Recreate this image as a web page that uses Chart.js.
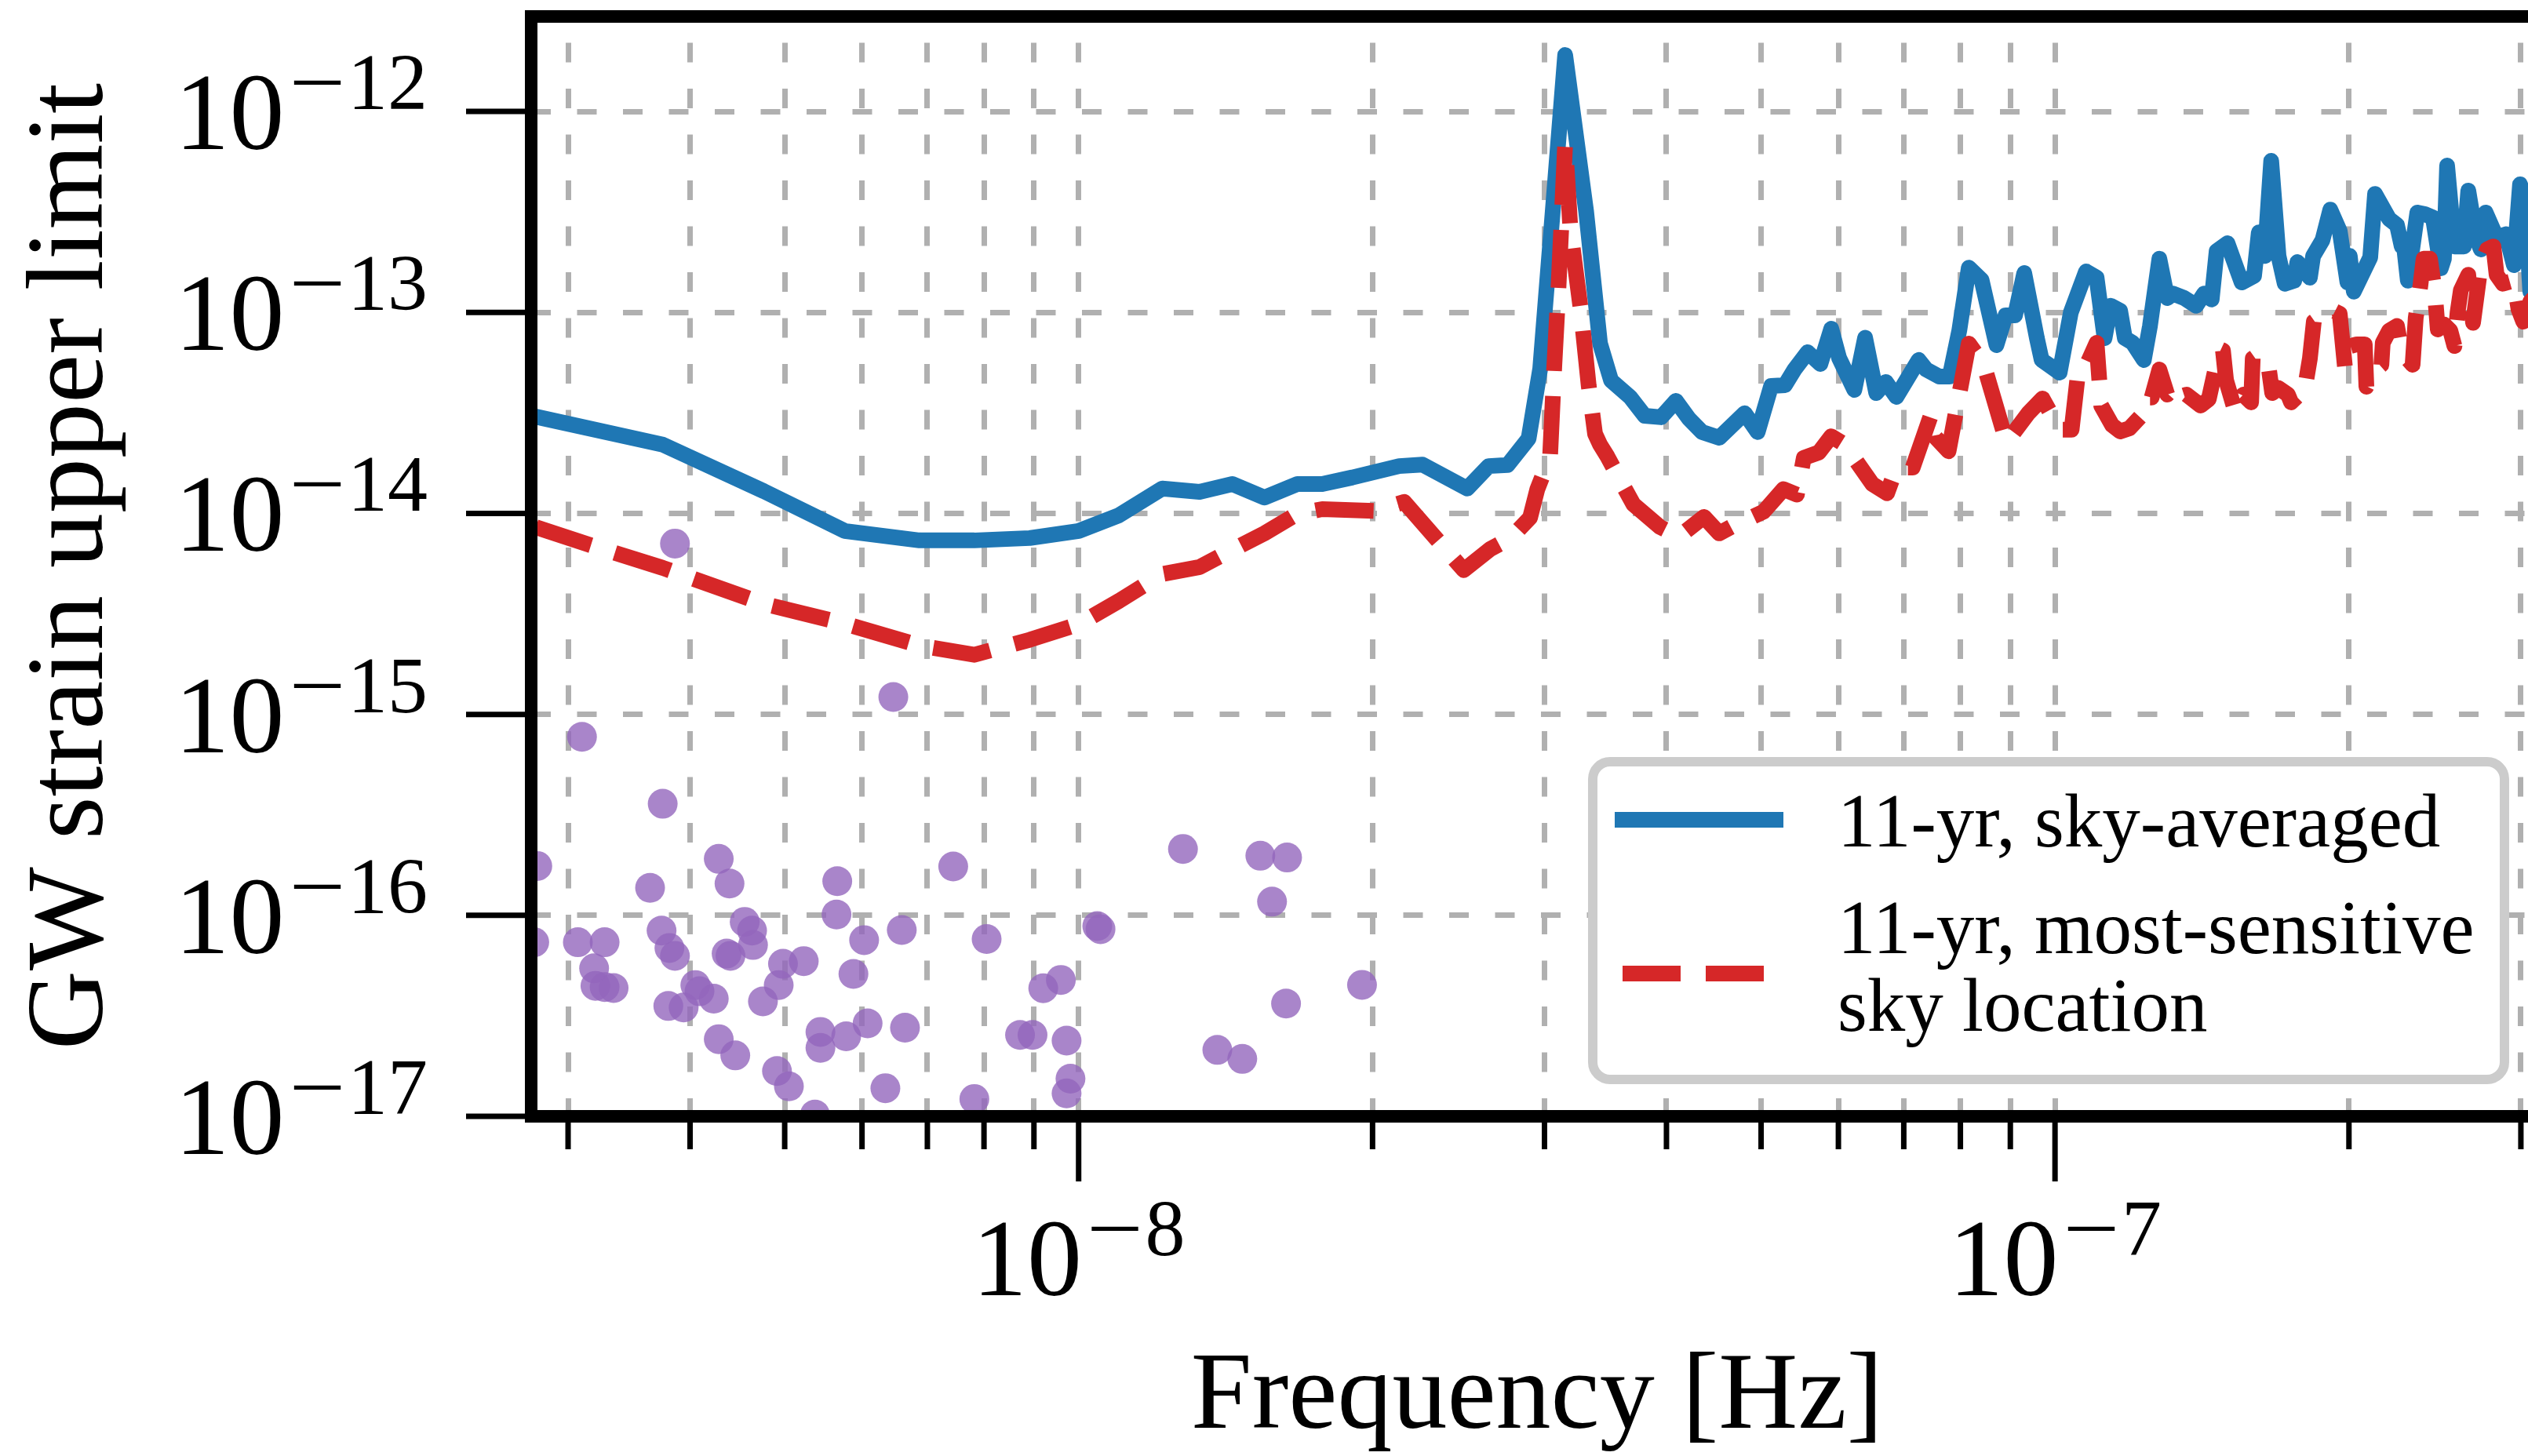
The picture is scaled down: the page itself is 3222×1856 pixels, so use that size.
<!DOCTYPE html>
<html>
<head>
<meta charset="utf-8">
<script src="https://cdn.jsdelivr.net/npm/chart.js@4.4.1/dist/chart.umd.min.js"></script>
<style>
html,body{margin:0;padding:0;background:#fff;overflow:hidden;width:3222px;height:1856px;}
#wrap{position:absolute;left:0;top:0;width:3260px;height:1856px;}
canvas{display:block;}
</style>
</head>
<body>
<div id="wrap"><canvas id="c" width="3260" height="1856"></canvas></div>
<script>
// ---------------- data ----------------
const xLimits = [2.75e-9, 3.16e-7];
const yLimits = [1e-17, 2.97e-12];
const xTickValues = [3e-9,4e-9,5e-9,6e-9,7e-9,8e-9,9e-9,1e-8,2e-8,3e-8,4e-8,5e-8,6e-8,7e-8,8e-8,9e-8,1e-7,2e-7,3e-7];
const xMajorValues = [1e-8, 1e-7];
const yTickValues = [1e-17,1e-16,1e-15,1e-14,1e-13,1e-12];

const skyLabel = '11-yr, sky-averaged';
const bestLabel = '11-yr, most-sensitive\nsky location';

const skyFreq = [
2.78e-9,3.75e-9,4.76e-9,5.76e-9,6.87e-9,7.82e-9,8.91e-9,1.00e-8,1.10e-8,1.218e-8,
1.33e-8,1.437e-8,1.55e-8,1.675e-8,1.776e-8,1.907e-8,2.13e-8,2.25e-8,2.50e-8,2.63e-8,
2.75e-8,2.89e-8,2.97e-8,3.15e-8,3.31e-8,3.42e-8,3.51e-8,3.67e-8,3.80e-8,3.95e-8,
4.09e-8,4.22e-8,4.35e-8,4.53e-8,4.81e-8,4.96e-8,5.12e-8,5.29e-8,5.41e-8,5.58e-8,
5.75e-8,5.90e-8,6.01e-8,6.23e-8,6.39e-8,6.56e-8,6.71e-8,6.88e-8,7.25e-8,7.38e-8,
7.61e-8,7.80e-8,7.98e-8,8.16e-8,8.41e-8,8.71e-8,8.90e-8,9.10e-8,9.30e-8,9.58e-8,
9.69e-8,9.85e-8,1.011e-7,1.038e-7,1.076e-7,1.103e-7,1.124e-7,1.140e-7,1.166e-7,1.179e-7,
1.201e-7,1.233e-7,1.251e-7,1.279e-7,1.303e-7,1.321e-7,1.356e-7,1.395e-7,1.421e-7,1.447e-7,
1.464e-7,1.502e-7,1.553e-7,1.599e-7,1.617e-7,1.640e-7,1.665e-7,1.694e-7,1.719e-7,1.758e-7,
1.771e-7,1.824e-7,1.838e-7,1.879e-7,1.914e-7,1.957e-7,1.993e-7,2.004e-7,2.023e-7,2.103e-7,
2.127e-7,2.199e-7,2.240e-7,2.265e-7,2.273e-7,2.298e-7,2.350e-7,2.393e-7,2.438e-7,2.484e-7,
2.502e-7,2.521e-7,2.565e-7,2.623e-7,2.650e-7,2.699e-7,2.730e-7,2.761e-7,2.833e-7,2.896e-7,
2.951e-7,2.994e-7,3.028e-7,3.067e-7,3.148e-7
];
const skyStrain = [
3.03e-14,2.20e-14,1.29e-14,8.18e-15,7.34e-15,7.34e-15,7.54e-15,8.18e-15,9.79e-15,1.33e-14,
1.28e-14,1.40e-14,1.20e-14,1.40e-14,1.40e-14,1.51e-14,1.72e-14,1.75e-14,1.33e-14,1.72e-14,
1.74e-14,2.36e-14,5.25e-14,1.91e-12,3.17e-13,7.00e-14,4.59e-14,3.80e-14,3.06e-14,3.01e-14,
3.63e-14,2.95e-14,2.54e-14,2.38e-14,3.15e-14,2.54e-14,4.31e-14,4.35e-14,5.20e-14,6.34e-14,
5.54e-14,8.30e-14,5.93e-14,4.12e-14,7.48e-14,3.97e-14,4.51e-14,3.80e-14,5.80e-14,5.20e-14,
4.80e-14,4.80e-14,8.15e-14,1.67e-13,1.45e-13,6.88e-14,9.67e-14,9.67e-14,1.57e-13,7.48e-14,
5.80e-14,5.49e-14,5.02e-14,1.00e-13,1.60e-13,1.49e-13,7.45e-14,1.08e-13,1.02e-13,7.45e-14,
7.06e-14,5.80e-14,8.57e-14,1.85e-13,1.18e-13,1.24e-13,1.18e-13,1.08e-13,1.24e-13,1.16e-13,
2.02e-13,2.21e-13,1.41e-13,1.52e-13,2.50e-13,1.91e-13,5.68e-13,1.91e-13,1.39e-13,1.44e-13,
1.78e-13,1.49e-13,1.91e-13,2.29e-13,3.25e-13,2.54e-13,1.41e-13,1.91e-13,1.27e-13,1.88e-13,
3.89e-13,2.92e-13,2.72e-13,2.13e-13,2.32e-13,1.44e-13,3.14e-13,3.08e-13,2.97e-13,1.66e-13,
1.85e-13,5.38e-13,2.13e-13,2.13e-13,4.04e-13,2.36e-13,2.06e-13,3.14e-13,2.36e-13,2.45e-13,
1.72e-13,4.34e-13,3.75e-13,1.27e-13,1.85e-13
];

const bestFreq = [
2.78e-9,3.16e-9,3.75e-9,4.76e-9,5.76e-9,6.87e-9,7.82e-9,8.91e-9,1.00e-8,1.10e-8,
1.218e-8,1.33e-8,1.437e-8,1.55e-8,1.675e-8,1.776e-8,2.01e-8,2.155e-8,2.48e-8,2.64e-8,
2.77e-8,2.90e-8,2.95e-8,3.04e-8,3.07e-8,3.10e-8,3.15e-8,3.19e-8,3.27e-8,3.33e-8,
3.38e-8,3.42e-8,3.48e-8,3.61e-8,3.70e-8,3.94e-8,4.12e-8,4.37e-8,4.53e-8,4.69e-8,
5.03e-8,5.27e-8,5.44e-8,5.53e-8,5.73e-8,5.90e-8,6.09e-8,6.50e-8,6.73e-8,6.88e-8,
7.15e-8,7.47e-8,7.55e-8,7.78e-8,8.16e-8,8.45e-8,8.92e-8,9.39e-8,9.71e-8,9.93e-8,
1.011e-7,1.040e-7,1.057e-7,1.077e-7,1.103e-7,1.115e-7,1.144e-7,1.166e-7,1.192e-7,1.223e-7,
1.237e-7,1.256e-7,1.279e-7,1.303e-7,1.321e-7,1.335e-7,1.364e-7,1.410e-7,1.437e-7,1.475e-7,
1.486e-7,1.497e-7,1.530e-7,1.559e-7,1.588e-7,1.594e-7,1.611e-7,1.652e-7,1.669e-7,1.694e-7,
1.732e-7,1.745e-7,1.771e-7,1.797e-7,1.824e-7,1.841e-7,1.875e-7,1.914e-7,1.957e-7,1.982e-7,
2.008e-7,2.038e-7,2.076e-7,2.084e-7,2.123e-7,2.159e-7,2.166e-7,2.199e-7,2.240e-7,2.265e-7,
2.324e-7,2.341e-7,2.367e-7,2.385e-7,2.421e-7,2.448e-7,2.466e-7,2.502e-7,2.540e-7,2.565e-7,
2.584e-7,2.604e-7,2.650e-7,2.680e-7,2.730e-7,2.771e-7,2.812e-7,2.833e-7,2.875e-7,2.951e-7,
2.983e-7,3.017e-7,3.067e-7,3.148e-7
];
const bestStrain = [
8.55e-15,6.96e-15,5.36e-15,3.55e-15,2.83e-15,2.20e-15,1.98e-15,2.35e-15,2.81e-15,3.67e-15,
4.99e-15,5.41e-15,6.59e-15,7.96e-15,9.96e-15,1.05e-14,1.03e-14,1.14e-14,5.22e-15,6.65e-15,
7.54e-15,9.53e-15,1.32e-14,1.92e-14,5.35e-14,1.30e-13,6.92e-13,2.55e-13,1.01e-13,4.31e-14,
2.49e-14,2.20e-14,1.92e-14,1.38e-14,1.11e-14,8.55e-15,7.68e-15,9.61e-15,7.96e-15,8.71e-15,
1.02e-14,1.32e-14,1.24e-14,1.89e-14,2.01e-14,2.42e-14,2.20e-14,1.40e-14,1.26e-14,1.69e-14,
1.69e-14,3.12e-14,2.38e-14,2.04e-14,7.00e-14,5.54e-14,2.26e-14,3.15e-14,3.73e-14,3.06e-14,
2.61e-14,2.61e-14,5.25e-14,5.44e-14,7.06e-14,3.44e-14,2.75e-14,2.56e-14,2.65e-14,3.03e-14,
3.77e-14,3.77e-14,5.20e-14,3.90e-14,4.20e-14,3.77e-14,3.90e-14,3.44e-14,3.70e-14,6.57e-14,
6.46e-14,4.59e-14,3.20e-14,3.90e-14,3.57e-14,5.90e-14,6.12e-14,5.69e-14,3.97e-14,4.20e-14,
3.90e-14,3.57e-14,3.83e-14,3.83e-14,5.90e-14,9.00e-14,9.59e-14,1.04e-13,9.85e-14,5.25e-14,
6.81e-14,6.94e-14,6.94e-14,4.27e-14,5.11e-14,5.49e-14,7.06e-14,8.12e-14,8.57e-14,6.34e-14,
5.49e-14,9.37e-14,1.36e-13,1.85e-13,1.85e-13,1.29e-13,8.23e-14,8.72e-14,8.12e-14,6.81e-14,
1.00e-13,1.29e-13,1.54e-13,8.88e-14,1.75e-13,2.06e-13,2.13e-13,1.54e-13,1.39e-13,1.44e-13,
1.04e-13,9.0e-14,1.13e-13,1.29e-13
];

const pulsarFreq = [
3.86e-9,6.46e-9,3.10e-9,3.75e-9,2.79e-9,4.28e-9,4.39e-9,3.64e-9,5.66e-9,7.44e-9,
5.65e-9,2.77e-9,3.07e-9,3.27e-9,3.74e-9,3.81e-9,3.86e-9,4.55e-9,4.63e-9,4.64e-9,
4.36e-9,4.40e-9,6.03e-9,6.59e-9,8.05e-9,3.19e-9,3.20e-9,3.27e-9,3.34e-9,4.98e-9,
5.23e-9,5.88e-9,4.05e-9,4.09e-9,4.23e-9,3.80e-9,3.94e-9,4.93e-9,4.75e-9,4.28e-9,
4.45e-9,5.44e-9,5.44e-9,5.78e-9,6.08e-9,6.64e-9,4.91e-9,5.05e-9,6.34e-9,7.82e-9,
5.37e-9,1.279e-8,1.535e-8,1.635e-8,1.578e-8,1.045e-8,1.053e-8,9.59e-9,9.20e-9,1.951e-8,
1.631e-8,8.71e-9,8.97e-9,9.72e-9,1.387e-8,1.471e-8,9.81e-9,9.72e-9
];
const pulsarStrain = [
7.08e-15,1.22e-15,7.73e-16,3.59e-16,1.76e-16,1.91e-16,1.44e-16,1.37e-16,1.48e-16,1.75e-16,
1.01e-16,7.35e-17,7.35e-17,7.35e-17,8.40e-17,6.88e-17,6.29e-17,9.28e-17,8.40e-17,7.12e-17,
6.45e-17,6.29e-17,7.53e-17,8.45e-17,7.62e-17,5.45e-17,4.46e-17,4.40e-17,4.35e-17,5.74e-17,
5.92e-17,5.11e-17,4.50e-17,4.19e-17,3.85e-17,3.54e-17,3.48e-17,4.50e-17,3.73e-17,2.42e-17,
2.01e-17,2.63e-17,2.19e-17,2.50e-17,2.90e-17,2.76e-17,1.68e-17,1.41e-17,1.38e-17,1.22e-17,
1.02e-17,2.14e-16,1.98e-16,1.94e-16,1.17e-16,8.84e-17,8.54e-17,4.77e-17,4.34e-17,4.51e-17,
3.64e-17,2.54e-17,2.54e-17,2.38e-17,2.14e-17,1.93e-17,1.54e-17,1.30e-17
];

// ---------------- styling ----------------
const FONT = '"Liberation Serif", "Times New Roman", serif';
const BLUE = '#1f77b4', RED = '#d62728', PURPLE = 'rgba(148,103,189,0.8)';
const LINE_W = 20, RED_DASH = [74, 32];
const GRID_DASH = [25, 33.5];

function pts(xs, ys) { return xs.map((v, i) => ({ x: v, y: ys[i] })); }

function roundRectPath(ctx, x, y, w, h, r) {
  ctx.beginPath();
  ctx.moveTo(x + r, y);
  ctx.lineTo(x + w - r, y); ctx.arcTo(x + w, y, x + w, y + r, r);
  ctx.lineTo(x + w, y + h - r); ctx.arcTo(x + w, y + h, x + w - r, y + h, r);
  ctx.lineTo(x + r, y + h); ctx.arcTo(x, y + h, x, y + h - r, r);
  ctx.lineTo(x, y + r); ctx.arcTo(x, y, x + r, y, r);
  ctx.closePath();
}

const decor = {
  id: 'decor',
  afterDatasetsDraw(chart) {
    const { ctx, chartArea: a, scales: { x, y } } = chart;
    ctx.save();
    ctx.setLineDash([]);
    ctx.strokeStyle = '#000';
    ctx.lineCap = 'butt';
    ctx.lineWidth = 7;
    yTickValues.forEach(v => {
      const p = y.getPixelForValue(v);
      ctx.beginPath(); ctx.moveTo(a.left, p); ctx.lineTo(a.left - 83, p); ctx.stroke();
    });
    xTickValues.forEach(v => {
      const p = x.getPixelForValue(v);
      const major = xMajorValues.includes(v);
      ctx.beginPath(); ctx.moveTo(p, a.bottom); ctx.lineTo(p, a.bottom + (major ? 83 : 42)); ctx.stroke();
    });
    // spines
    ctx.lineWidth = 16; ctx.lineJoin = 'miter';
    ctx.strokeRect(a.left, a.top, a.right - a.left, a.bottom - a.top);

    // tick labels 10^{-n}
    const big = '140px ' + FONT, small = '102px ' + FONT;
    ctx.fillStyle = '#000'; ctx.textAlign = 'left'; ctx.textBaseline = 'alphabetic';
    function parts(v) { const e = Math.round(Math.log10(v)); return ['10', '\u2212', String(Math.abs(e))]; }
    function widths(p) {
      ctx.font = big; const wb = ctx.measureText(p[0]).width;
      ctx.font = small; const ws = ctx.measureText(p[1]).width; const wd = ctx.measureText(p[2]).width;
      return { wb, ws, wd, total: wb + 6 + ws + 17 + wd };
    }
    function draw(p, x0, base) {
      const w = widths(p);
      ctx.font = big; ctx.fillText(p[0], x0, base);
      ctx.font = small;
      const mx = x0 + w.wb + 6;
      ctx.save(); ctx.translate(mx, base - 51); ctx.scale(1.25, 1); ctx.fillText(p[1], 0, 0); ctx.restore();
      ctx.fillText(p[2], mx + w.ws + 17, base - 51);
    }
    yTickValues.forEach(v => {
      const py = y.getPixelForValue(v); const p = parts(v); const w = widths(p);
      draw(p, a.left - 132 - w.total, py + 48);
    });
    xMajorValues.forEach(v => {
      const px = x.getPixelForValue(v); const p = parts(v); const w = widths(p);
      draw(p, px - w.total / 2, a.bottom + 228);
    });
    ctx.restore();
  },
  afterDraw(chart) {
    const { ctx, chartArea: a } = chart;
    const W = 1174, H = 417;
    const bx = a.right - 43 - W, by = a.bottom - 41 - H;
    ctx.save();
    ctx.setLineDash([]);
    roundRectPath(ctx, bx + 6, by + 6, W - 12, H - 12, 22);
    ctx.fillStyle = '#ffffff'; ctx.fill();
    ctx.lineWidth = 12; ctx.strokeStyle = '#cccccc'; ctx.stroke();

    const hx0 = bx + 34, hx1 = bx + 249;
    const sets = chart.data.datasets;
    ctx.lineCap = 'butt';
    ctx.lineWidth = LINE_W; ctx.strokeStyle = sets[1].borderColor;
    ctx.beginPath(); ctx.moveTo(hx0, by + 80); ctx.lineTo(hx1, by + 80); ctx.stroke();
    ctx.strokeStyle = sets[2].borderColor; ctx.setLineDash(RED_DASH); ctx.lineDashOffset = 96;
    ctx.beginPath(); ctx.moveTo(hx0, by + 276); ctx.lineTo(hx1, by + 276); ctx.stroke();
    ctx.setLineDash([]);
    ctx.fillStyle = '#000'; ctx.font = '97px ' + FONT; ctx.textAlign = 'left'; ctx.textBaseline = 'alphabetic';
    const tx = bx + 318;
    ctx.fillText(sets[1].label, tx, by + 114);
    const lines = sets[2].label.split('\n');
    ctx.fillText(lines[0], tx, by + 250);
    ctx.fillText(lines[1], tx, by + 349);
    ctx.restore();
  }
};

new Chart(document.getElementById('c'), {
  type: 'scatter',
  data: {
    datasets: [
      { label: 'pulsars', data: pts(pulsarFreq, pulsarStrain), showLine: false,
        pointRadius: 19, pointHoverRadius: 19, pointBackgroundColor: PURPLE, pointBorderWidth: 0,
        order: 3, clip: 0 },
      { label: skyLabel, data: pts(skyFreq, skyStrain), showLine: true, fill: false, tension: 0,
        borderColor: BLUE, borderWidth: LINE_W, borderJoinStyle: 'round', borderCapStyle: 'butt',
        pointRadius: 0, pointHoverRadius: 0, order: 2, clip: 0 },
      { label: bestLabel, data: pts(bestFreq, bestStrain), showLine: true, fill: false, tension: 0,
        borderColor: RED, borderWidth: LINE_W, borderDash: RED_DASH, borderJoinStyle: 'round', borderCapStyle: 'butt',
        pointRadius: 0, pointHoverRadius: 0, order: 1, clip: 0 }
    ]
  },
  options: {
    responsive: false, animation: false, devicePixelRatio: 1, events: [],
    layout: { padding: { left: 0, right: 17, top: 21, bottom: 0 } },
    plugins: { legend: { display: false }, tooltip: { enabled: false } },
    scales: {
      x: {
        type: 'logarithmic', position: 'bottom', min: xLimits[0], max: xLimits[1],
        afterBuildTicks: s => { s.ticks = xTickValues.map(v => ({ value: v })); },
        afterFit: s => { s.height = 433; },
        ticks: { display: false },
        grid: { color: '#b0b0b0', lineWidth: 7, drawTicks: false },
        border: { display: false, dash: GRID_DASH, dashOffset: 25 },
        title: { display: true, text: 'Frequency [Hz]', color: '#000',
                 font: { family: FONT, size: 140, lineHeight: 1 }, padding: { top: 0, bottom: 3 } }
      },
      y: {
        type: 'logarithmic', position: 'left', min: yLimits[0], max: yLimits[1],
        afterBuildTicks: s => { s.ticks = yTickValues.map(v => ({ value: v })); },
        afterFit: s => { s.width = 677; },
        ticks: { display: false },
        grid: { color: '#b0b0b0', lineWidth: 7, drawTicks: false },
        border: { display: false, dash: GRID_DASH, dashOffset: 0 },
        title: { display: true, text: 'GW strain upper limit', color: '#000',
                 font: { family: FONT, size: 140, lineHeight: 1 }, padding: { top: 23, bottom: 0 } }
      }
    }
  },
  plugins: [decor]
});
</script>
</body>
</html>
